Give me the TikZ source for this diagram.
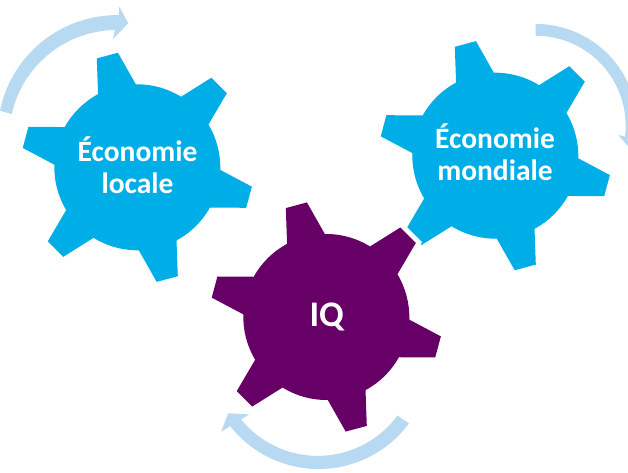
\documentclass[tikz,border=0pt]{standalone}
\usepackage{fontspec}
\setmainfont{Carlito}[BoldFont={Carlito Bold}]
\definecolor{gearblue}{HTML}{00AEE7}
\definecolor{gearpurple}{HTML}{660066}
\definecolor{arrowblue}{HTML}{B7D9F2}
\newcommand{\gearoutline}{
  (58.2:83pt)
  \foreach \k in {0,60,120,180,240,300}{
    -- ({50.4-\k}:116.2pt) -- ({39.6-\k}:116.2pt) -- ({31-\k}:83pt)
    arc[start angle={31-\k},end angle={-1.8-\k},radius=83pt]
  } -- cycle
}
\tikzset{
  gearlabel/.style={text=white,font=\fontsize{29.5}{32}\selectfont\bfseries,align=center,inner sep=0pt},
  curvearrow/.style={fill=arrowblue,draw=none}
}
\begin{document}
\begin{tikzpicture}[x=1pt,y=1pt]
\useasboundingbox (0,0) rectangle (628,473);
\clip (0,0) rectangle (628,473);
% curved arrows
\fill[curvearrow] (0,362.3) arc[start angle=168.4,end angle=89.2,radius=119.6pt]
  -- (119.3,466.3) -- (128.3,449.7) -- (112.7,433.7) -- (115,443)
  arc[start angle=90.9,end angle=167.5,radius=107.5pt] -- cycle;
\fill[curvearrow] (535.7,449) arc[start angle=90,end angle=-7,radius=101.7pt]
  -- (645,335) -- (633,321) -- (618.3,338) -- (625.0,336.3)
  arc[start angle=-7,end angle=90,radius=90pt] -- cycle;
\fill[curvearrow] (409,49.7) arc[start angle=-36.4,end angle=-141.8,radius=112.4pt]
  -- (221,41.3) -- (228.3,59.7) -- (249.3,58.7) -- (241,53.7)
  arc[start angle=-140.9,end angle=-36.4,radius=99pt] -- cycle;
% gears
\fill[gearblue,shift={(137.3,305.7)}] \gearoutline;
\fill[gearblue,shift={(495.3,317.3)}] \gearoutline;
\draw[white,line width=10pt,shift={(326.3,156)}] \gearoutline;
\fill[gearpurple,shift={(326.3,156)}] \gearoutline;
% labels
\node[gearlabel] (local) at (137.5,308) {Économie\\locale};
\node[gearlabel] (mondiale) at (495,320.5) {Économie\\mondiale};
\node[gearlabel,font=\fontsize{36}{40}\selectfont\bfseries] (iq) at (326.7,156) {IQ};
\end{tikzpicture}
\end{document}
